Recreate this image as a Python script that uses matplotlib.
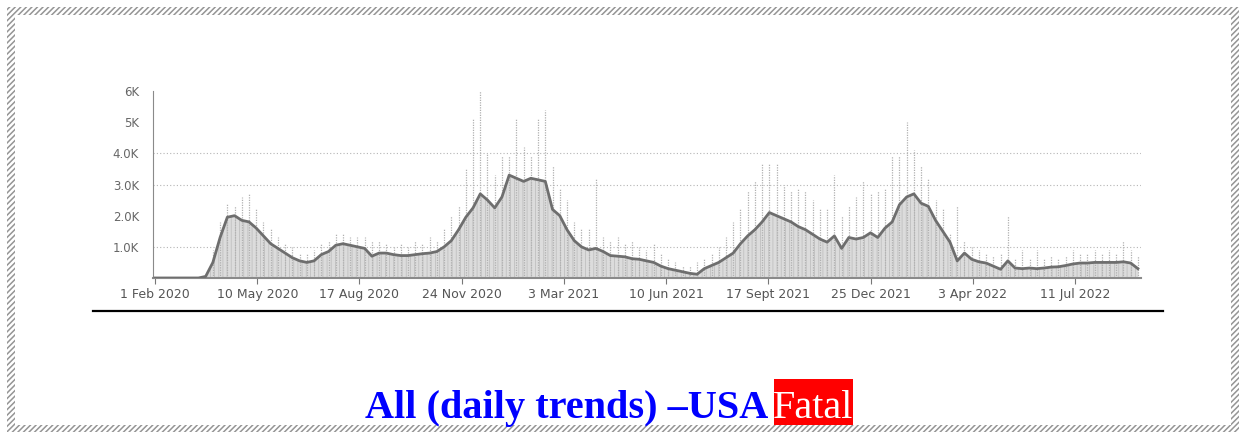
import matplotlib.pyplot as plt
from matplotlib.patches import Rectangle
import pandas as pd

# weekly 7-day average deaths (USA), starting 1 Feb 2020
start = "2020-02-01"
avg_deaths = [
    0, 0, 0, 0, 0, 0, 0, 50, 500, 1300,
    1950, 2000, 1850, 1800, 1600, 1350, 1100, 950, 800, 650,
    550, 500, 550, 750, 850, 1050, 1100, 1050, 1000, 950,
    700, 800, 800, 750, 720, 720, 750, 780, 800, 850,
    1000, 1200, 1550, 1950, 2250, 2700, 2500, 2250, 2600, 3300,
    3200, 3100, 3200, 3150, 3100, 2200, 2000, 1550, 1200, 1000,
    900, 950, 850, 720, 700, 680, 620, 600, 550, 500,
    380, 300, 250, 200, 150, 120, 300, 400, 500, 650,
    800, 1100, 1350, 1550, 1800, 2100, 2000, 1900, 1800, 1650,
    1550, 1400, 1250, 1150, 1350, 950, 1300, 1250, 1300, 1450,
    1300, 1600, 1800, 2350, 2600, 2700, 2400, 2300, 1850, 1500,
    1150, 550, 800, 600, 520, 480, 380, 280, 550, 320,
    300, 320, 300, 320, 350, 360, 400, 450, 480, 480,
    500, 500, 500, 500, 520, 480, 300,
]
# weekly highest daily report
peak_deaths = [
    0, 0, 0, 0, 0, 0, 0, 100, 900, 1800,
    2400, 2300, 2600, 2700, 2200, 1800, 1600, 1300, 1100, 1000,
    800, 800, 900, 1100, 1200, 1400, 1400, 1300, 1300, 1300,
    1200, 1200, 1100, 1000, 1100, 1000, 1200, 1100, 1300, 1200,
    1600, 2000, 2300, 3500, 5100, 6000, 4000, 3300, 3900, 3900,
    5100, 4200, 3900, 5100, 5400, 3600, 2900, 2500, 1800, 1600,
    1600, 3200, 1300, 1200, 1300, 1100, 1200, 1000, 900, 1100,
    800, 600, 500, 400, 400, 500, 600, 800, 1000, 1300,
    1800, 2200, 2800, 3100, 3700, 3700, 3650, 3000, 2800, 2900,
    2800, 2500, 2200, 2200, 3300, 2000, 2300, 2600, 3100, 2700,
    2800, 2900, 3900, 3900, 5000, 4100, 3600, 3200, 2500, 2200,
    1400, 2300, 1200, 1000, 900, 800, 700, 800, 2000, 600,
    900, 600, 900, 600, 700, 600, 700, 900, 800, 800,
    900, 800, 900, 800, 1200, 900, 700,
]
tick_labels = ["1 Feb 2020", "10 May 2020", "17 Aug 2020", "24 Nov 2020",
               "3 Mar 2021", "10 Jun 2021", "17 Sept 2021", "25 Dec 2021",
               "3 Apr 2022", "11 Jul 2022"]
ytick_values = [0, 1000, 2000, 3000, 4000, 5000, 6000]
ytick_labels = ["", "1.0K", "2.0K", "3.0K", "4.0K", "5K", "6K"]
grid_levels = [1000, 3000, 4000]

weeks = pd.date_range(start, periods=len(avg_deaths), freq="7D")
tick_dates = pd.date_range(start, periods=len(tick_labels), freq="99D")

fig = plt.figure(figsize=(12.46, 4.32), dpi=100)

# hatched page border
plt.rcParams["hatch.linewidth"] = 1.1
fig.patches.append(Rectangle((7 / 1246, 0), 1232 / 1246, 425 / 432, transform=fig.transFigure,
                             facecolor="white", edgecolor="#959595", hatch="//////", lw=0))
fig.patches.append(Rectangle((15 / 1246, 7 / 432), 1216 / 1246, 410 / 432, transform=fig.transFigure,
                             facecolor="white", edgecolor="none", lw=0))

ax = fig.add_axes([153 / 1246, 1 - 278 / 432, 988 / 1246, 187 / 432])
ax.set_zorder(5)
ax.set_facecolor("none")

for g in grid_levels:
    ax.axhline(g, color="#b5b5b5", lw=0.8, ls=(0, (1, 2)), zorder=0)

ax.fill_between(weeks, avg_deaths, color="#dcdcdc", lw=0, zorder=1)
with plt.rc_context({"hatch.linewidth": 0.6}):
    ax.fill_between(weeks, avg_deaths, facecolor="none", edgecolor="#c0c0c0",
                    hatch="||||", lw=0, zorder=1)
ax.vlines(weeks, 0, peak_deaths, color="#b0b0b0", lw=0.9, ls=(0, (1, 1)), zorder=2)
ax.plot(weeks, avg_deaths, color="#6e6e6e", lw=2, zorder=3)

ax.set_ylim(0, 6000)
ax.set_xlim(pd.Timestamp(start) - pd.Timedelta(days=2), pd.Timestamp(start) + pd.Timedelta(days=955))
ax.set_yticks(ytick_values)
ax.set_yticklabels(ytick_labels)
ax.set_xticks(tick_dates)
ax.set_xticklabels(tick_labels)
ax.tick_params(axis="y", length=0, pad=10, labelsize=8.5, labelcolor="#666666")
ax.tick_params(axis="x", length=4, color="#777777", pad=3, labelsize=9, labelcolor="#555555")
for side in ["top", "right"]:
    ax.spines[side].set_visible(False)
ax.spines["left"].set_color("#8a8a8a")
ax.spines["bottom"].set_color("#8a8a8a")
ax.spines["bottom"].set_linewidth(1.5)

# rule under the chart
fig.add_artist(plt.Line2D([93 / 1246, 1163 / 1246], [1 - 311 / 432] * 2,
                          transform=fig.transFigure, color="black", lw=1.6, zorder=6))

fig.text(365 / 1246, 1 - 418 / 432, "All (daily trends) \u2013USA", color="#0000ff",
         fontsize=29, fontweight="bold", family="Liberation Serif", ha="left", va="baseline",
         zorder=6)
fig.patches.append(Rectangle((774 / 1246, 7 / 432), 79 / 1246, 46 / 432,
                             transform=fig.transFigure, facecolor="#ff0000", lw=0, zorder=5))
fig.text(813 / 1246, 1 - 418 / 432, "Fatal", color="white", fontsize=29,
         family="Liberation Serif", ha="center", va="baseline", zorder=6)

fig.savefig("out.png", dpi=100)
